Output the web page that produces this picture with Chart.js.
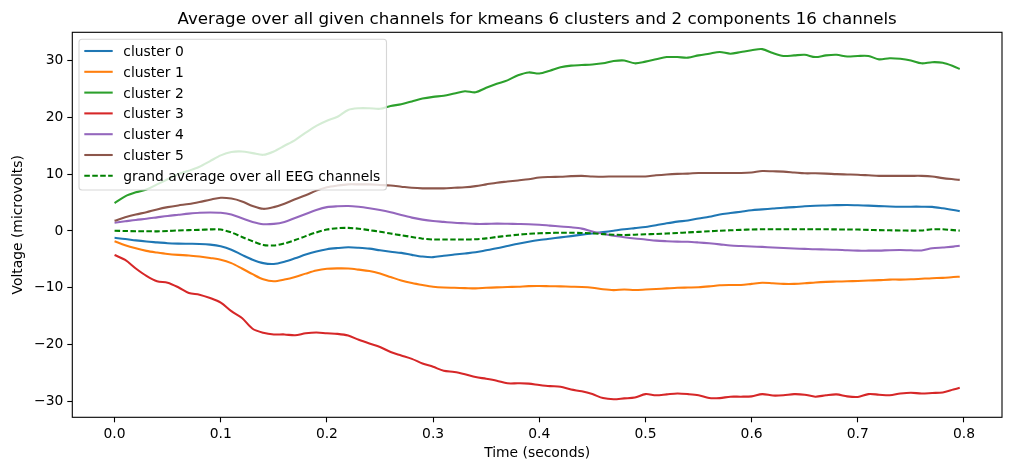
<!DOCTYPE html>
<html lang="en">
<head>
    <meta charset="UTF-8">
    <title>kmeans cluster averages</title>
    <script src="https://cdn.jsdelivr.net/npm/chart.js"></script>
    <style>
        body { margin: 0; background: #fff; }
    </style>
</head>
<body>
    <canvas id="myChart" width="1014" height="465"></canvas>
<script>
    // time axis (seconds)
    const times = [
        0.00, 0.01, 0.02, 0.03, 0.04, 0.05, 0.06, 0.07, 0.08, 0.09,
        0.10, 0.11, 0.12, 0.13, 0.14, 0.15, 0.16, 0.17, 0.18, 0.19,
        0.20, 0.21, 0.22, 0.23, 0.24, 0.25, 0.26, 0.27, 0.28, 0.29,
        0.30, 0.31, 0.32, 0.33, 0.34, 0.35, 0.36, 0.37, 0.38, 0.39,
        0.40, 0.41, 0.42, 0.43, 0.44, 0.45, 0.46, 0.47, 0.48, 0.49,
        0.50, 0.51, 0.52, 0.53, 0.54, 0.55, 0.56, 0.57, 0.58, 0.59,
        0.60, 0.61, 0.62, 0.63, 0.64, 0.65, 0.66, 0.67, 0.68, 0.69,
        0.70, 0.71, 0.72, 0.73, 0.74, 0.75, 0.76, 0.77, 0.78, 0.79,
        0.796
    ];

    const cluster0 = [
        -1.2, -1.4, -1.65, -1.85, -2.0, -2.15, -2.22, -2.25, -2.28, -2.4,
        -2.7, -3.3, -4.2, -5.05, -5.65, -5.8, -5.4, -4.8, -4.15, -3.6,
        -3.2, -3.0, -2.87, -2.95, -3.1, -3.4, -3.65, -3.85, -4.2, -4.5,
        -4.6, -4.35, -4.15, -3.95, -3.75, -3.4, -3.05, -2.65, -2.25, -1.9,
        -1.6, -1.35, -1.12, -0.9, -0.65, -0.43, -0.2, 0.05, 0.3, 0.5,
        0.7, 1.0, 1.35, 1.65, 1.85, 2.2, 2.5, 2.9, 3.15, 3.4,
        3.65, 3.8, 3.95, 4.1, 4.2, 4.35, 4.45, 4.5, 4.55, 4.58,
        4.52, 4.46, 4.38, 4.32, 4.28, 4.28, 4.28, 4.25, 4.0, 3.7,
        3.5
    ];
    const cluster1 = [
        -1.8, -2.5, -3.05, -3.5, -3.8, -4.05, -4.2, -4.3, -4.5, -4.75,
        -5.05, -5.65, -6.6, -7.6, -8.5, -8.85, -8.55, -8.1, -7.5, -6.95,
        -6.65, -6.58, -6.6, -6.8, -7.05, -7.5, -8.1, -8.7, -9.15, -9.5,
        -9.8, -9.95, -10.0, -10.05, -10.1, -10.0, -9.92, -9.85, -9.8, -9.7,
        -9.68, -9.72, -9.75, -9.8, -9.85, -9.98, -10.25, -10.4, -10.3, -10.38,
        -10.3, -10.2, -10.1, -10.0, -9.95, -9.9, -9.75, -9.55, -9.5, -9.5,
        -9.3, -9.1, -9.2, -9.3, -9.3, -9.2, -9.05, -8.95, -8.9, -8.85,
        -8.8, -8.72, -8.65, -8.55, -8.55, -8.5, -8.4, -8.3, -8.25, -8.1,
        -8.05
    ];
    const cluster2 = [
        4.9, 6.1, 6.8, 7.3, 8.2, 9.1, 10.0, 10.6, 11.3, 12.3,
        13.3, 13.9, 14.0, 13.7, 13.4, 14.0, 15.0, 16.0, 17.3, 18.5,
        19.4, 20.1, 21.3, 21.6, 21.6, 21.5, 22.0, 22.3, 22.8, 23.3,
        23.6, 23.8, 24.2, 24.6, 24.4, 25.2, 25.9, 26.5, 27.4, 27.9,
        27.7, 28.2, 28.8, 29.1, 29.2, 29.3, 29.5, 29.9, 30.0, 29.5,
        29.8, 30.2, 30.6, 30.6, 30.5, 30.9, 31.2, 31.5, 31.2, 31.5,
        31.8, 32.0, 31.3, 30.8, 30.9, 31.0, 30.6, 30.9, 31.0, 30.7,
        30.8, 30.8, 30.2, 30.4, 30.3, 30.0, 29.5, 29.7, 29.6, 29.0,
        28.5
    ];
    const cluster3 = [
        -4.22, -5.1, -6.6, -7.9, -8.85, -9.1, -9.9, -10.9, -11.2, -11.8,
        -12.6, -14.1, -15.3, -17.2, -17.9, -18.2, -18.2, -18.35, -18.0, -17.85,
        -18.0, -18.1, -18.4, -19.15, -19.8, -20.4, -21.3, -21.9, -22.5, -23.3,
        -23.9, -24.6, -24.8, -25.2, -25.7, -26.0, -26.35, -26.8, -26.8, -26.85,
        -27.1, -27.3, -27.4, -27.9, -28.2, -28.7, -29.4, -29.6, -29.45, -29.3,
        -28.7, -28.9, -28.75, -28.6, -28.7, -28.9, -29.4, -29.4, -29.15, -29.15,
        -29.1, -28.7, -28.95, -28.9, -28.7, -28.8, -29.15, -28.9, -28.75, -29.1,
        -29.2, -28.7, -28.8, -28.9, -28.6, -28.45, -28.6, -28.5, -28.4, -27.9,
        -27.6
    ];
    const cluster4 = [
        1.45, 1.7, 1.95, 2.15, 2.4, 2.65, 2.85, 3.05, 3.2, 3.25,
        3.2, 2.9, 2.25, 1.6, 1.2, 1.25, 1.6, 2.3, 3.0, 3.7,
        4.2, 4.35, 4.4, 4.25, 4.0, 3.7, 3.3, 2.8, 2.35, 2.0,
        1.75, 1.6, 1.45, 1.35, 1.25, 1.25, 1.29, 1.27, 1.24, 1.2,
        1.1, 0.95, 0.8, 0.65, 0.42, -0.1, -0.5, -0.85, -1.1, -1.32,
        -1.5, -1.7, -1.8, -1.87, -1.9, -2.02, -2.17, -2.35, -2.55, -2.65,
        -2.73, -2.8, -2.9, -3.0, -3.08, -3.15, -3.22, -3.25, -3.3, -3.4,
        -3.46, -3.46, -3.45, -3.38, -3.35, -3.4, -3.42, -3.05, -2.9, -2.75,
        -2.6
    ];
    const cluster5 = [
        1.8, 2.4, 2.9, 3.3, 3.8, 4.2, 4.5, 4.75, 5.1, 5.5,
        5.85, 5.7, 5.2, 4.4, 3.9, 4.2, 4.8, 5.6, 6.3, 7.1,
        7.7, 8.0, 8.2, 8.2, 8.2, 8.1, 8.0, 7.8, 7.6, 7.5,
        7.5, 7.5, 7.6, 7.7, 7.9, 8.2, 8.5, 8.7, 8.9, 9.1,
        9.4, 9.5, 9.55, 9.65, 9.7, 9.6, 9.55, 9.6, 9.6, 9.6,
        9.6, 9.8, 9.95, 10.05, 10.1, 10.2, 10.2, 10.2, 10.2, 10.2,
        10.3, 10.55, 10.5, 10.45, 10.3, 10.15, 10.15, 10.1, 10.0, 9.95,
        9.9, 9.8, 9.7, 9.7, 9.7, 9.7, 9.7, 9.6, 9.3, 9.1,
        9.0
    ];
    const grandAverage = [
        0.05, 0.0, -0.03, -0.05, -0.06, 0.0, 0.1, 0.15, 0.2, 0.28,
        0.25, -0.25, -1.05, -1.8, -2.45, -2.55, -2.2, -1.6, -0.9, -0.25,
        0.25, 0.5, 0.55, 0.4, 0.15, -0.12, -0.45, -0.75, -1.05, -1.35,
        -1.5, -1.5, -1.5, -1.5, -1.45, -1.3, -1.05, -0.85, -0.65, -0.5,
        -0.4, -0.35, -0.3, -0.3, -0.35, -0.4, -0.55, -0.65, -0.7, -0.65,
        -0.58, -0.53, -0.45, -0.35, -0.25, -0.15, -0.05, 0.05, 0.12, 0.2,
        0.27, 0.3, 0.3, 0.3, 0.3, 0.3, 0.3, 0.3, 0.28, 0.27,
        0.25, 0.2, 0.15, 0.12, 0.1, 0.06, 0.1, 0.3, 0.3, 0.15,
        0.06
    ];

    const seriesNames = ['cluster 0', 'cluster 1', 'cluster 2', 'cluster 3', 'cluster 4', 'cluster 5',
        'grand average over all EEG channels'];
    const seriesValues = [cluster0, cluster1, cluster2, cluster3, cluster4, cluster5, grandAverage];
    const colors = ['#1f77b4', '#ff7f0e', '#2ca02c', '#d62728', '#9467bd', '#8c564b', '#008000'];

    const xTicks = [0.0, 0.1, 0.2, 0.3, 0.4, 0.5, 0.6, 0.7, 0.8];
    const yTicks = [-30, -20, -10, 0, 10, 20, 30];

    const chartTitle = 'Average over all given channels for kmeans 6 clusters and 2 components 16 channels';
    const FONT = '"DejaVu Sans", sans-serif';
    const LW = 2.08;

    const datasets = seriesValues.map((vals, i) => ({
        label: seriesNames[i],
        data: vals.map((v, j) => ({ x: times[j], y: v })),
        borderColor: colors[i],
        borderWidth: LW,
        borderDash: i === 6 ? [5.55, 2.4] : [],
        pointRadius: 0,
        tension: 0.3,
        fill: false,
        order: 6 - i   // later series drawn on top, like matplotlib
    }));

    // title, frame and legend drawn by hand
    const decorPlugin = {
        id: 'decor',
        afterDraw(chart) {
            const ctx = chart.ctx;
            const a = chart.chartArea;
            ctx.save();

            // frame
            ctx.strokeStyle = '#000';
            ctx.lineWidth = 1.1;
            ctx.setLineDash([]);
            ctx.strokeRect(a.left, a.top, a.right - a.left, a.bottom - a.top);

            // title
            ctx.fillStyle = '#000';
            ctx.font = '16.67px ' + FONT;
            ctx.textAlign = 'center';
            ctx.textBaseline = 'alphabetic';
            ctx.fillText(chartTitle, (a.left + a.right) / 2, 24);

            // legend
            const bx = 79, by = 39.3, bw = 307.5, bh = 150.7, r = 3;
            ctx.beginPath();
            ctx.roundRect(bx, by, bw, bh, r);
            ctx.fillStyle = 'rgba(255,255,255,0.8)';
            ctx.fill();
            ctx.strokeStyle = 'rgba(204,204,204,0.8)';
            ctx.lineWidth = 1.1;
            ctx.stroke();

            ctx.font = '13.89px ' + FONT;
            ctx.textAlign = 'left';
            seriesNames.forEach((name, i) => {
                const y = 51 + i * 20.8;
                ctx.beginPath();
                ctx.strokeStyle = colors[i];
                ctx.lineWidth = LW;
                ctx.setLineDash(i === 6 ? [5.55, 2.4] : []);
                ctx.moveTo(84.3, y);
                ctx.lineTo(112.7, y);
                ctx.stroke();
                ctx.setLineDash([]);
                ctx.fillStyle = '#000';
                ctx.fillText(name, 123.3, y + 5);
            });
            ctx.restore();
        }
    };

    const config = {
        type: 'line',
        data: { datasets: datasets },
        options: {
            responsive: false,
            animation: false,
            layout: { padding: { top: 32.3, right: 12, bottom: 0, left: 0 } },
            plugins: {
                legend: { display: false },
                title: { display: false },
                tooltip: { enabled: false }
            },
            scales: {
                x: {
                    type: 'linear',
                    min: -0.0398,
                    max: 0.8358,
                    afterFit: (scale) => { scale.height = 47.7; },
                    afterBuildTicks: (scale) => { scale.ticks = xTicks.map(v => ({ value: v })); },
                    grid: {
                        drawOnChartArea: false,
                        drawTicks: true,
                        tickLength: 5,
                        tickColor: '#000',
                        tickWidth: 1.1
                    },
                    border: { display: false },
                    ticks: {
                        color: '#000',
                        padding: 4,
                        maxRotation: 0,
                        font: { family: FONT, size: 13.89 },
                        callback: (v) => v.toFixed(1)
                    },
                    title: {
                        display: true,
                        text: 'Time (seconds)',
                        color: '#000',
                        font: { family: FONT, size: 13.89 },
                        padding: { top: 0, bottom: 3.2 }
                    }
                },
                y: {
                    type: 'linear',
                    min: -32.78,
                    max: 34.96,
                    afterFit: (scale) => { scale.width = 72.3; },
                    afterBuildTicks: (scale) => { scale.ticks = yTicks.map(v => ({ value: v })); },
                    grid: {
                        drawOnChartArea: false,
                        drawTicks: true,
                        tickLength: 5,
                        tickColor: '#000',
                        tickWidth: 1.1
                    },
                    border: { display: false },
                    ticks: {
                        color: '#000',
                        padding: 4,
                        font: { family: FONT, size: 13.89 },
                        callback: (v) => (v < 0 ? '\u2212' + Math.abs(v) : String(v))
                    },
                    title: {
                        display: true,
                        text: 'Voltage (microvolts)',
                        color: '#000',
                        font: { family: FONT, size: 13.89 },
                        padding: { top: 10, bottom: 0 }
                    }
                }
            }
        },
        plugins: [decorPlugin]
    };

    const myChart = new Chart(document.getElementById('myChart'), config);
</script>
</body>
</html>
